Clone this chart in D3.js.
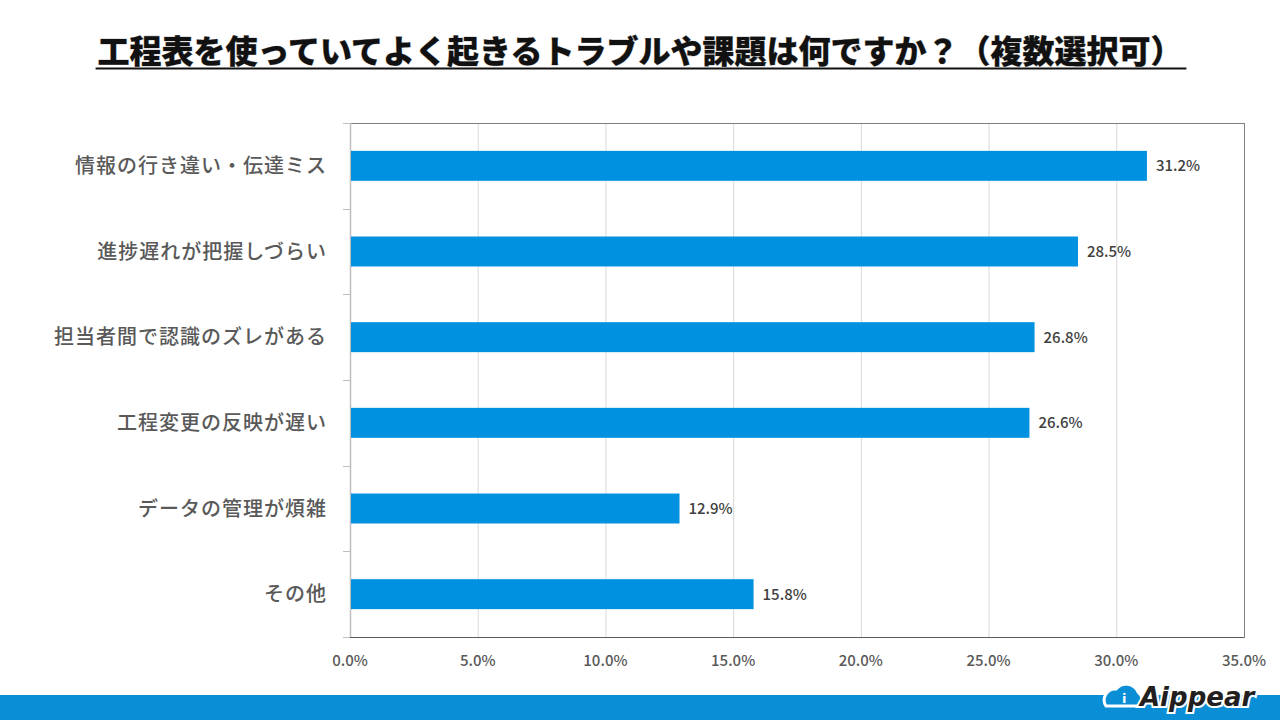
<!DOCTYPE html>
<html>
<head>
<meta charset="utf-8">
<script src="https://cdn.jsdelivr.net/npm/d3@7"></script>
<style>
  body { margin: 0; background: #fff; }
  svg { display: block; }
</style>
</head>
<body>
<div id="chart"></div>
<script>
// data
var categories = ["情報の行き違い・伝達ミス", "進捗遅れが把握しづらい", "担当者間で認識のズレがある", "工程変更の反映が遅い", "データの管理が煩雑", "その他"];
var values = [31.2, 28.5, 26.8, 26.6, 12.9, 15.8];
var xTicks = [0, 5, 10, 15, 20, 25, 30, 35];
var titleText = "工程表を使っていてよく起きるトラブルや課題は何ですか？（複数選択可）";

var width = 1280, height = 720;
var margin = {left: 350, right: 36, top: 123, bottom: 83};
var jp = "'Noto Sans CJK JP', 'Noto Sans', sans-serif";

var svg = d3.select("#chart").append("svg")
    .attr("width", width)
    .attr("height", height);

// title
var title = svg.append("text")
    .attr("x", 640)
    .attr("y", 63)
    .attr("text-anchor", "middle")
    .style("font-family", jp)
    .style("font-weight", "900")
    .style("font-size", "32px")
    .style("fill", "#111")
    .style("paint-order", "stroke")
    .style("stroke", "#999")
    .style("stroke-width", "0.6px")
    .text(titleText);
var tb = title.node().getBBox();
svg.append("line")
    .attr("x1", tb.x - 2).attr("x2", tb.x + tb.width + 4)
    .attr("y1", 68.5).attr("y2", 68.5)
    .attr("stroke", "#111").attr("stroke-width", 2);

var x = d3.scaleLinear()
    .domain([0, 35])
    .range([margin.left, width - margin.right]);

var y = d3.scaleBand()
    .domain(categories)
    .range([margin.top, height - margin.bottom])
    .paddingInner(0.65)
    .paddingOuter(0.325);

var plotTop = margin.top, plotBottom = height - margin.bottom;

// grid lines
svg.append("g").selectAll("line")
    .data(xTicks.slice(1, -1))
    .enter().append("line")
    .attr("x1", d => x(d) + 0.5).attr("x2", d => x(d) + 0.5)
    .attr("y1", plotTop).attr("y2", plotBottom)
    .attr("stroke", "#d9d9d9").attr("stroke-width", 1);

// plot border
svg.append("rect")
    .attr("x", margin.left + 0.5)
    .attr("y", plotTop + 0.5)
    .attr("width", x(35) - margin.left)
    .attr("height", plotBottom - plotTop)
    .attr("fill", "none")
    .attr("stroke", "#7f7f7f")
    .attr("stroke-width", 1);

// left category axis with ticks at boundaries
var bounds = d3.range(categories.length + 1).map(i => plotTop + i * (plotBottom - plotTop) / categories.length);
svg.append("g").selectAll("line")
    .data(bounds)
    .enter().append("line")
    .attr("x1", margin.left - 7).attr("x2", margin.left)
    .attr("y1", d => Math.round(d) + 0.5).attr("y2", d => Math.round(d) + 0.5)
    .attr("stroke", "#bfbfbf");
svg.append("line")
    .attr("x1", margin.left + 0.5).attr("x2", margin.left + 0.5)
    .attr("y1", plotTop).attr("y2", plotBottom)
    .attr("stroke", "#bfbfbf").attr("stroke-width", 1.5);

// bottom axis line
svg.append("line")
    .attr("x1", margin.left).attr("x2", x(35))
    .attr("y1", plotBottom + 0.5).attr("y2", plotBottom + 0.5)
    .attr("stroke", "#595959").attr("stroke-width", 1);

// bars
svg.append("g").selectAll("rect")
    .data(categories)
    .enter().append("rect")
    .attr("x", x(0) + 1)
    .attr("y", d => y(d))
    .attr("width", (d, i) => x(values[i]) - x(0) - 1)
    .attr("height", y.bandwidth())
    .attr("fill", "#0092e1");

// value labels
svg.append("g").selectAll("text")
    .data(categories)
    .enter().append("text")
    .attr("x", (d, i) => x(values[i]) + 9)
    .attr("y", d => y(d) + y.bandwidth() / 2)
    .attr("dy", "0.36em")
    .style("font-family", jp)
    .style("font-size", "15px")
    .style("font-weight", "500")
    .style("fill", "#404040")
    .text((d, i) => values[i].toFixed(1) + "%");

// category labels
svg.append("g").selectAll("text")
    .data(categories)
    .enter().append("text")
    .attr("x", 327)
    .attr("y", d => y(d) + y.bandwidth() / 2)
    .attr("dy", "0.36em")
    .attr("text-anchor", "end")
    .style("font-family", jp)
    .style("font-size", "20px")
    .style("letter-spacing", "1px")
    .style("font-weight", "500")
    .style("fill", "#595959")
    .text(d => d);

// x tick labels
svg.append("g").selectAll("text")
    .data(xTicks)
    .enter().append("text")
    .attr("x", d => x(d))
    .attr("y", 666)
    .attr("text-anchor", "middle")
    .style("font-family", jp)
    .style("font-size", "15px")
    .style("font-weight", "500")
    .style("fill", "#595959")
    .text(d => d.toFixed(1) + "%");

// bottom band
svg.append("rect")
    .attr("x", 0).attr("y", 695)
    .attr("width", width).attr("height", 25)
    .attr("fill", "#0a8fd6");

// logo
var logo = svg.append("g").attr("transform", "translate(1104,695)");
logo.append("path")
    .attr("d", "M2,11 a11,11 0 0 1 10,-17 a13,13 0 0 1 22,3 a10,10 0 0 1 2,14 z")
    .attr("fill", "#0a8fd6")
    .attr("stroke", "#fff")
    .attr("stroke-width", 3);
logo.append("text")
    .attr("x", 18).attr("y", 8)
    .style("font-family", "'DejaVu Sans', sans-serif")
    .style("font-size", "13px")
    .style("font-weight", "bold")
    .style("fill", "#fff")
    .text("i");
logo.append("text")
    .attr("x", 36).attr("y", 11)
    .style("font-family", "'DejaVu Sans', sans-serif")
    .style("font-size", "26px")
    .style("font-weight", "bold")
    .style("font-style", "italic")
    .style("fill", "#231f20")
    .style("paint-order", "stroke")
    .style("stroke", "#fff")
    .style("stroke-width", "4px")
    .text("Aippear");
</script>
</body>
</html>
